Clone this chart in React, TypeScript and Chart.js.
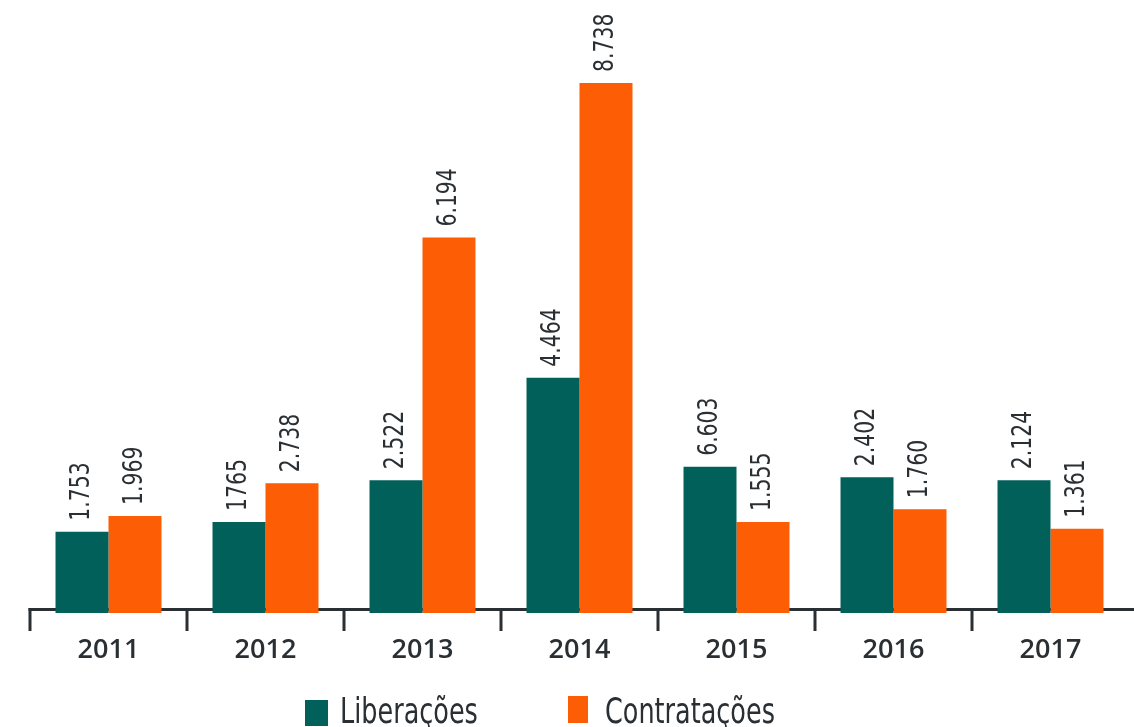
import React, { useEffect, useRef } from "react";
import { Chart, registerables } from "chart.js";

Chart.register(...registerables);

const categories = ["2011", "2012", "2013", "2014", "2015", "2016", "2017"];
const seriesNames = ["Liberações", "Contratações"];
const liberacoes = [1.34, 1.5, 2.19, 3.88, 2.41, 2.24, 2.19];
const contratacoes = [1.6, 2.14, 6.19, 8.74, 1.5, 1.71, 1.39];
const liberacoesLabels = ["1.753", "1765", "2.522", "4.464", "6.603", "2.402", "2.124"];
const contratacoesLabels = ["1.969", "2.738", "6.194", "8.738", "1.555", "1.760", "1.361"];

const TEAL = "#02605b";
const ORANGE = "#fd5d05";
const INK = "#2a2f33";

const axisLinePlugin = {
  id: "axisLine",
  beforeDatasetsDraw(chart: any) {
    const { ctx, chartArea } = chart;
    const xs = chart.scales.x;
    const lineY = chartArea.bottom - 3.5;
    ctx.save();
    ctx.strokeStyle = INK;
    ctx.lineWidth = 3;
    ctx.beginPath();
    ctx.moveTo(chartArea.left - 1.5, lineY);
    ctx.lineTo(chart.width, lineY);
    ctx.stroke();
    ctx.beginPath();
    for (let i = 0; i <= categories.length - 1; i++) {
      const x = Math.round(xs.getPixelForValue(i - 0.5));
      ctx.moveTo(x, lineY - 1.5);
      ctx.lineTo(x, chartArea.bottom + 18);
    }
    ctx.stroke();
    ctx.restore();
  },
};

const valueLabelsPlugin = {
  id: "valueLabels",
  afterDatasetsDraw(chart: any) {
    const ctx = chart.ctx;
    const labelSets = [liberacoesLabels, contratacoesLabels];
    ctx.save();
    ctx.fillStyle = INK;
    ctx.font = "27px 'Liberation Sans Narrow', 'DejaVu Sans Condensed', sans-serif";
    ctx.textAlign = "left";
    ctx.textBaseline = "middle";
    chart.data.datasets.forEach((_: any, di: number) => {
      const meta = chart.getDatasetMeta(di);
      meta.data.forEach((bar: any, i: number) => {
        ctx.save();
        ctx.translate(bar.x, bar.y - 11);
        ctx.rotate(-Math.PI / 2);
        ctx.scale(0.84, 1);
        ctx.fillText(labelSets[di][i], 0, 0);
        ctx.restore();
      });
    });
    ctx.restore();
  },
};

const legendPlugin = {
  id: "customLegend",
  afterDraw(chart: any) {
    const ctx = chart.ctx;
    const items = [
      { x: 305, y: 700, w: 23, h: 26, tx: 340 },
      { x: 568, y: 696, w: 20, h: 27, tx: 605 },
    ];
    ctx.save();
    ctx.font = "35px 'Liberation Sans Narrow', 'DejaVu Sans Condensed', sans-serif";
    ctx.textAlign = "left";
    ctx.textBaseline = "alphabetic";
    chart.data.datasets.forEach((ds: any, i: number) => {
      const it = items[i];
      ctx.fillStyle = ds.backgroundColor;
      ctx.fillRect(it.x, it.y, it.w, it.h);
      ctx.fillStyle = INK;
      ctx.save();
      ctx.translate(it.tx, 723);
      ctx.scale(0.81, 1);
      ctx.fillText(ds.label, 0, 0);
      ctx.restore();
    });
    ctx.restore();
  },
};

export default function App() {
  const canvasRef = useRef<HTMLCanvasElement | null>(null);

  useEffect(() => {
    if (!canvasRef.current) return;
    const chart = new Chart(canvasRef.current, {
      type: "bar",
      data: {
        labels: categories,
        datasets: [
          { label: seriesNames[0], data: liberacoes, backgroundColor: TEAL },
          { label: seriesNames[1], data: contratacoes, backgroundColor: ORANGE },
        ],
      },
      options: {
        animation: false,
        responsive: true,
        maintainAspectRatio: false,
        layout: { padding: { left: 30, right: 5, top: 6.5, bottom: 49 } },
        datasets: { bar: { categoryPercentage: 0.675, barPercentage: 1 } },
        plugins: {
          legend: { display: false },
          tooltip: { enabled: false },
        },
        scales: {
          x: {
            grid: {
              drawOnChartArea: false,
              drawTicks: true,
              tickLength: 18,
              color: "rgba(0,0,0,0)",
              lineWidth: 3,
              offset: true,
            },
            border: { display: false },
            ticks: {
              color: INK,
              padding: 3,
              font: { family: "'Open Sans', sans-serif", size: 27, weight: "600" },
            },
            afterFit: (scale: any) => {
              scale.height = 65;
            },
          },
          y: {
            display: false,
            min: 0,
            max: 10,
          },
        },
      },
      plugins: [axisLinePlugin, valueLabelsPlugin, legendPlugin],
    });
    return () => chart.destroy();
  }, []);

  return (
    <div style={{ position: "absolute", left: 0, top: 0, width: 1134, height: 727, background: "#fff" }}>
      <canvas ref={canvasRef} />
    </div>
  );
}
